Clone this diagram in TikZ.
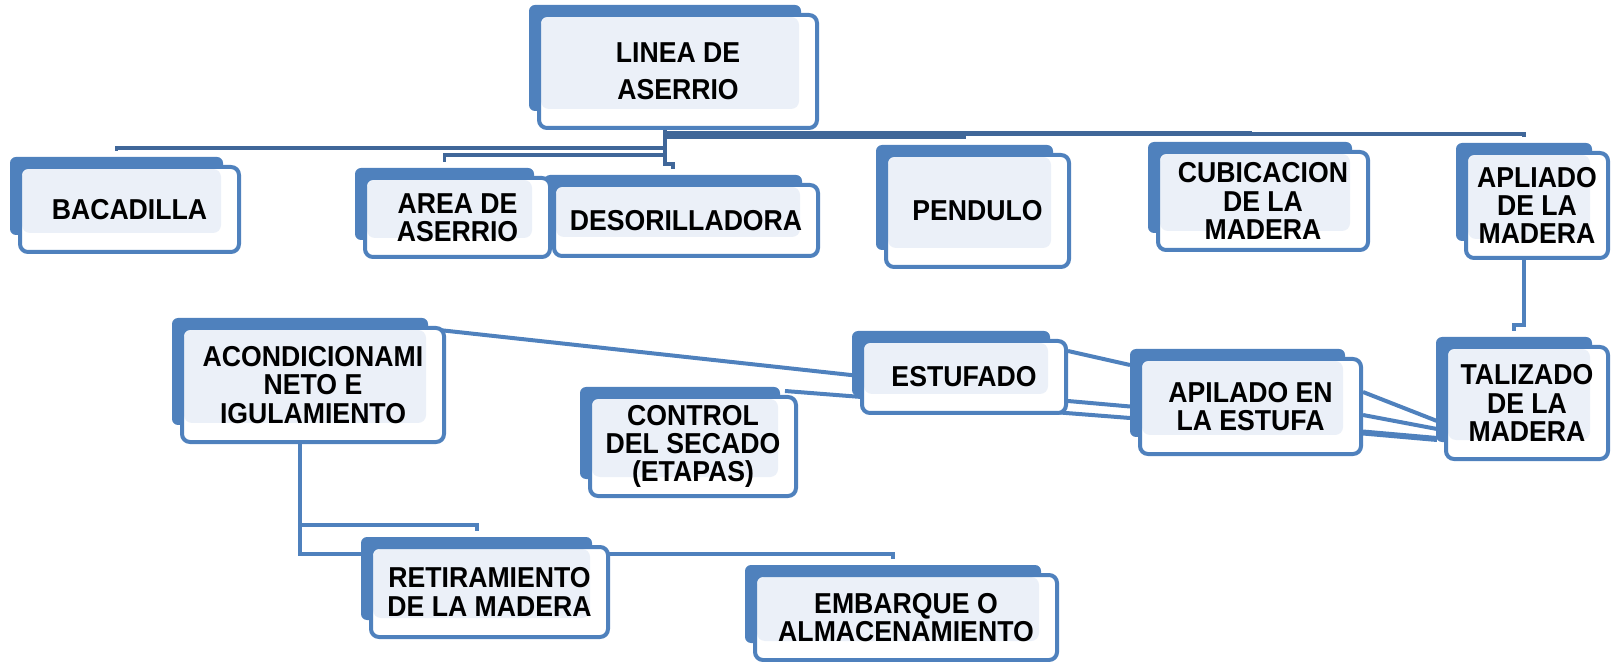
\documentclass[tikz,border=0pt]{standalone}
\usepackage{fontspec}
\setmainfont[FakeStretch=0.925]{Liberation Sans}
\usepackage{tikz}
\usetikzlibrary{positioning, calc, backgrounds}
\definecolor{boxblue}{RGB}{79,129,189}
\definecolor{linkblue}{RGB}{64,103,153}
\definecolor{boxlight}{RGB}{235,240,248}
\tikzstyle{card} = [rectangle, rounded corners=4pt, draw=boxblue, line width=2pt, fill=white, align=center, inner sep=0pt, font=\bfseries\fontsize{14.4pt}{14.15pt}\selectfont, path picture={\fill[boxlight] ([shift={(2,2)}]path picture bounding box.north west) rectangle ([shift={(-18,-19)}]path picture bounding box.south east);}]
\tikzstyle{backcard} = [fill=boxblue, rounded corners=3pt]
\tikzstyle{link} = [draw=linkblue, line width=1.9pt]
\tikzstyle{bar} = [draw=boxblue, line width=2pt]

\begin{document}
\begin{tikzpicture}[x=0.5pt, y=-0.5pt]
\useasboundingbox (0,0) rectangle (1611,662);

% Main blocks
\node (linea) [card, minimum width=139pt, minimum height=56.5pt, font=\bfseries\fontsize{14.4pt}{18.5pt}\selectfont] at (678,71.5) {LINEA DE\\ASERRIO};
\node (baca) [card, minimum width=109.5pt, minimum height=42.5pt] at (129.5,209.5) {BACADILLA};
\node (area) [card, minimum width=92.5pt, minimum height=39.5pt] at (457.5,217.5) {AREA DE\\ASERRIO};
\node (deso) [card, minimum width=132pt, minimum height=35.5pt] at (686,220.5) {DESORILLADORA};
\node (pend) [card, minimum width=91.5pt, minimum height=56pt] at (977.5,211) {PENDULO};
\node (cubi) [card, minimum width=105pt, minimum height=49pt] at (1263,201) {CUBICACION\\DE LA\\MADERA};
\node (apli) [card, minimum width=71pt, minimum height=52.5pt] at (1537,205.5) {APLIADO\\DE LA\\MADERA};
\node (acon) [card, minimum width=131pt, minimum height=57pt] at (313,385) {ACONDICIONAMI\\NETO E\\IGULAMIENTO};
\node (estu) [card, minimum width=102pt, minimum height=36pt] at (964,377) {ESTUFADO};
\node (ctrl) [card, minimum width=103pt, minimum height=49.5pt] at (693,446.5) {CONTROL\\DEL SECADO\\(ETAPAS)};
\node (apil) [card, minimum width=110.5pt, minimum height=47.5pt] at (1250.5,406.5) {APILADO EN\\LA ESTUFA};
\node (tali) [card, minimum width=81pt, minimum height=56pt] at (1527,403) {TALIZADO\\DE LA\\MADERA};
\node (reti) [card, minimum width=118.5pt, minimum height=45pt] at (489.5,592) {RETIRAMIENTO\\DE LA MADERA};
\node (emba) [card, minimum width=151pt, minimum height=42.5pt] at (906,617.5) {EMBARQUE O\\ALMACENAMIENTO};

\begin{scope}[on background layer]
% Lines
\draw[link] ([xshift=-6.5pt]linea.south) -- ++(0,7) -| ([shift={(-13,-14)}]pend.north);
\draw[link] ([xshift=-6.5pt]linea.south) -- ++(0,3) -| ([shift={(-13,-14)}]cubi.north);
\draw[link] ([xshift=-6.5pt]linea.south) -- ++(0,4) -| ([shift={(-13,-14)}]apli.north);
\draw[link] ([xshift=-6.5pt]linea.south) -- ++(0,18) -| ([shift={(-13,-14)}]baca.north);
\draw[link] ([xshift=-6.5pt]linea.south) -- ++(0,25) -| ([shift={(-13,-14)}]area.north);
\draw[link] ([xshift=-6.5pt]linea.south) -- ++(0,34) -| ([shift={(-13,-14)}]deso.north);
\draw[bar] ([xshift=-6.5pt]apli.south) -- ++(0,65) -| ([shift={(-13,-14)}]tali.north);
\draw[bar] ([xshift=-6.5pt]acon.south) -- ++(0,81) -| ([shift={(-13,-14)}]reti.north);
\draw[bar] ([xshift=-6.5pt]acon.south) -- ++(0,110) -| ([shift={(-13,-14)}]emba.north);
\draw[bar] ([shift={(-7,4)}]acon.north east) -- ([shift={(0,-1)}]estu.west);
\draw[bar] ([shift={(-13,-4)}]ctrl.north east) -- ([shift={(-8,11.5)}]apil.west);
\draw[bar] ([shift={(0,12)}]estu.north east) -- ([shift={(-8,8)}]apil.north west);
\draw[bar] ([shift={(0,-14)}]estu.south east) -- ([shift={(-8,0)}]apil.west);
\draw[bar] ([shift={(0,-14.5)}]apil.east) -- ([shift={(-7,18)}]tali.west);
\draw[bar] ([shift={(0,8.5)}]apil.east) -- ([shift={(-7,26)}]tali.west);
\draw[bar, line width=3pt] ([shift={(0,26)}]apil.east) -- ([shift={(-7,36)}]tali.west);
% Shadows
\foreach \n in {linea,baca,area,deso,pend,cubi,apli,acon,estu,ctrl,apil,tali,reti,emba}
  \fill[backcard] ([shift={(-8,-8)}]\n.north west) rectangle ([shift={(-18,-19)}]\n.south east);
\end{scope}

\end{tikzpicture}
\end{document}
